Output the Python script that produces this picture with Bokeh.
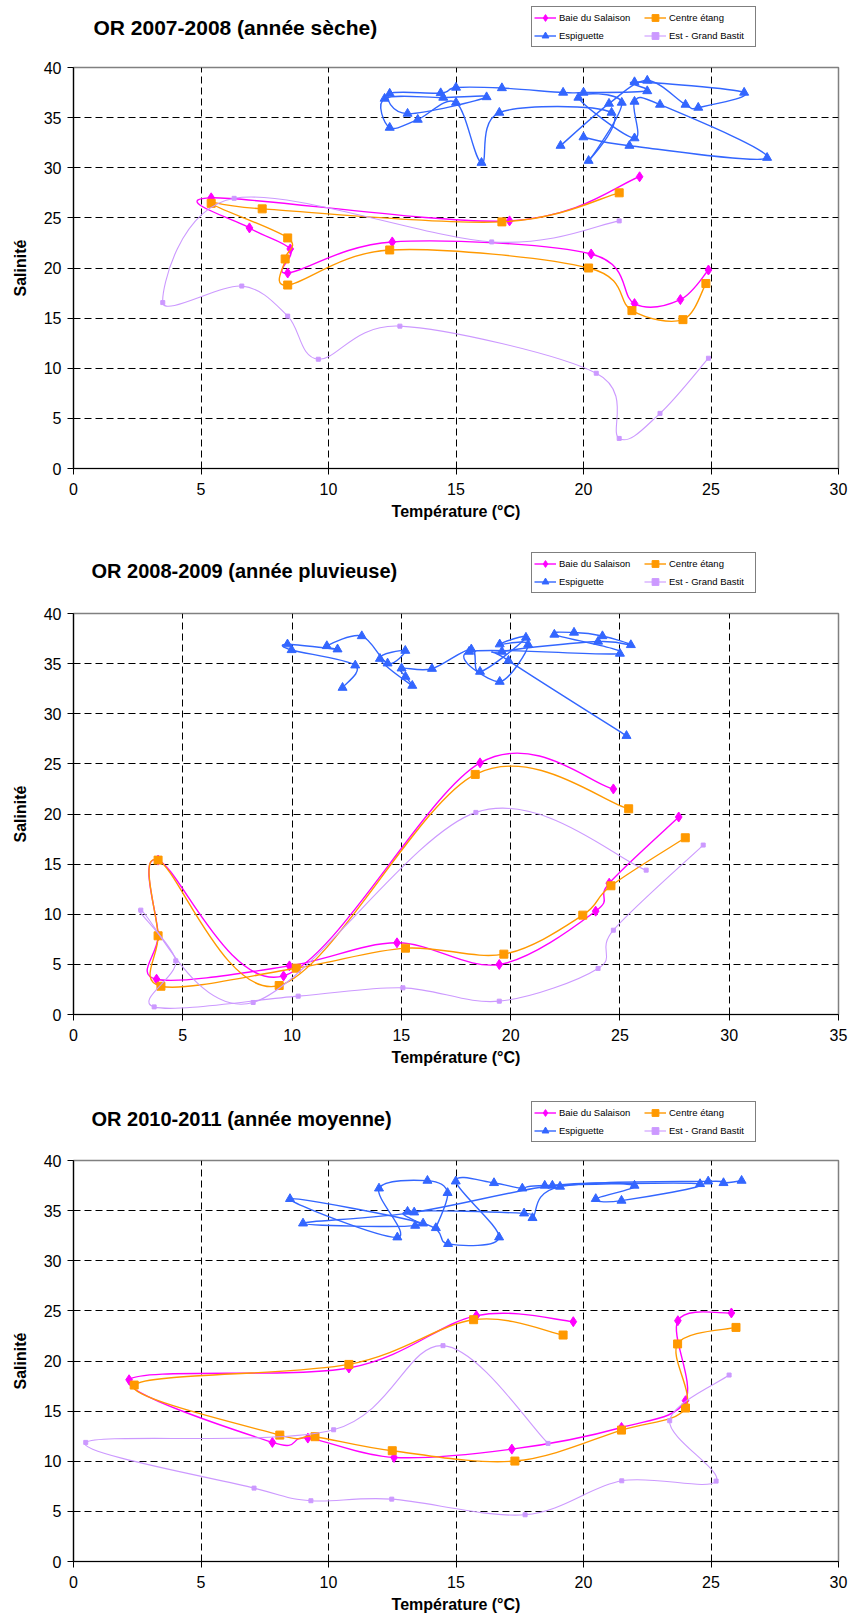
import numpy as np
from bokeh.plotting import figure
from bokeh.models import (FixedTicker, Label, Legend, LegendItem, ColumnDataSource, Range1d)
from bokeh.layouts import column
from bokeh.embed import file_html
from bokeh.resources import INLINE

SERIES = ["Baie du Salaison", "Centre étang", "Espiguette", "Est - Grand Bastit"]
TITLES = ["OR 2007-2008 (année sèche)", "OR 2008-2009 (année pluvieuse)", "OR 2010-2011 (année moyenne)"]
X_LABEL = "Température (°C)"
Y_LABEL = "Salinité"
X_MAX = [30, 35, 30]
Y_TICKS = [0, 5, 10, 15, 20, 25, 30, 35, 40]

# ---------------- OR 2007-2008 ----------------
p1_sal_t = [22.2, 17.1, 5.4, 6.9, 8.5, 8.4, 12.5, 20.3, 22.0, 23.8, 24.9]
p1_sal_s = [29.1, 24.7, 27.0, 24.0, 21.9, 19.5, 22.6, 21.4, 16.45, 16.85, 19.8]
p1_cen_t = [21.4, 16.8, 7.4, 5.4, 8.4, 8.3, 8.4, 12.4, 20.2, 21.9, 23.9, 24.8]
p1_cen_s = [27.5, 24.6, 25.9, 26.45, 23.0, 20.9, 18.3, 21.8, 20.0, 15.75, 14.85, 18.45]
p1_esp_t = [19.1, 21.0, 22.5, 24.0, 24.5, 26.3, 22.0, 22.5, 20.0, 19.2, 16.8, 15.0, 14.4,
            12.4, 13.1, 16.2, 14.5, 12.2, 12.4, 13.5, 15.0, 16.0, 16.7, 21.1, 20.2, 21.5,
            19.8, 22.0, 22.0, 23.0, 27.2, 21.8, 20.0]
p1_esp_s = [32.2, 36.4, 38.7, 36.3, 36.0, 37.5, 38.55, 37.65, 37.5, 37.5, 37.95, 38.0, 37.45,
            37.4, 35.4, 37.05, 37.0, 36.9, 34.0, 34.8, 36.5, 30.5, 35.5, 35.5, 30.7, 36.5,
            37.0, 32.95, 36.6, 36.3, 31.0, 32.2, 33.05]
p1_est_t = [21.4, 16.4, 6.3, 3.5, 6.6, 8.4, 9.6, 12.8, 20.5, 21.4, 23.0, 24.9]
p1_est_s = [24.7, 22.6, 26.95, 16.55, 18.2, 15.2, 10.9, 14.2, 9.5, 3.0, 5.5, 11.0]

# ---------------- OR 2008-2009 ----------------
p2_sal_t = [24.7, 18.6, 9.61, 3.87, 3.87, 3.80, 9.88, 14.8, 19.48, 23.89, 24.51, 27.69]
p2_sal_s = [22.5, 25.1, 3.85, 15.4, 7.85, 3.52, 4.85, 7.15, 4.99, 10.31, 13.1, 19.7]
p2_cen_t = [25.4, 18.38, 9.41, 3.87, 3.87, 4.0, 10.19, 15.19, 19.69, 23.3, 24.59, 27.99]
p2_cen_s = [20.52, 23.95, 2.89, 15.4, 7.85, 2.82, 4.62, 6.62, 6.02, 9.91, 12.84, 17.63]
p2_esp_t = [12.31, 12.89, 9.98, 9.79, 12.08, 11.59, 13.19, 14.37, 15.18, 14.02, 15.5, 15.19,
            15.01, 16.4, 18.2, 18.6, 20.7, 19.5, 20.8, 19.5, 18.1, 25.0, 22.0, 22.9, 24.2,
            25.5, 24.0, 19.6, 19.9, 25.3]
p2_esp_s = [32.6, 34.83, 36.36, 36.93, 36.43, 36.76, 37.75, 35.03, 36.29, 35.49, 32.8, 33.7,
            34.53, 34.49, 36.43, 34.2, 37.6, 36.93, 36.9, 33.2, 36.2, 36.0, 37.9, 38.1, 37.75,
            36.86, 37.2, 36.2, 35.3, 27.8]
p2_est_t = [26.2, 18.41, 8.22, 3.08, 4.68, 3.69, 10.28, 15.07, 19.48, 24.0, 24.7, 28.81]
p2_est_s = [14.4, 20.16, 1.2, 10.41, 5.35, 0.76, 1.83, 2.66, 1.33, 4.59, 8.41, 16.9]

# ---------------- OR 2010-2011 ----------------
p3_sal_t = [19.6, 15.8, 10.8, 2.18, 7.8, 9.19, 12.57, 17.19, 21.49, 24.0, 23.7, 25.8]
p3_sal_s = [23.92, 24.52, 19.3, 18.13, 11.88, 12.31, 10.38, 11.21, 13.37, 16.04, 24.02, 24.79]
p3_cen_t = [19.2, 15.69, 10.8, 2.38, 8.09, 9.47, 12.5, 17.31, 21.49, 24.0, 23.69, 25.98]
p3_cen_s = [22.59, 24.12, 19.66, 17.6, 12.61, 12.45, 11.05, 10.02, 13.11, 15.31, 21.7, 23.35]
p3_esp_t = [14.21, 14.67, 13.88, 11.98, 12.7, 8.49, 13.71, 14.69, 16.69, 14.99, 16.49, 17.6,
            18.48, 24.57, 21.49, 20.48, 22.0, 18.78, 13.36, 9.0, 13.4, 13.1, 17.67, 18.0,
            19.08, 24.89, 25.49, 26.2]
p3_esp_s = [33.27, 36.77, 37.99, 37.22, 32.34, 36.17, 33.73, 31.68, 32.34, 37.92, 37.76, 37.22,
            37.5, 37.66, 36.0, 36.17, 37.5, 37.5, 34.83, 33.73, 33.5, 34.9, 34.73, 34.27,
            37.4, 37.92, 37.76, 37.99]
p3_est_t = [18.61, 14.49, 10.2, 0.48, 7.08, 9.31, 12.48, 17.71, 21.5, 25.2, 23.38, 25.71]
p3_est_s = [11.78, 21.53, 13.14, 11.88, 7.32, 6.06, 6.22, 4.66, 8.05, 8.02, 14.04, 18.6]

PANELS = [
    [(p1_sal_t, p1_sal_s), (p1_cen_t, p1_cen_s), (p1_esp_t, p1_esp_s), (p1_est_t, p1_est_s)],
    [(p2_sal_t, p2_sal_s), (p2_cen_t, p2_cen_s), (p2_esp_t, p2_esp_s), (p2_est_t, p2_est_s)],
    [(p3_sal_t, p3_sal_s), (p3_cen_t, p3_cen_s), (p3_esp_t, p3_esp_s), (p3_est_t, p3_est_s)],
]

# styles
COLORS = ["#FF00FF", "#FF9900", "#3366FF", "#CC99FF"]
MARKERS = ["diamond", "square", "triangle", "square"]
MSIZES = [10, 8, 9, 4]
LWIDTHS = [1.4, 1.4, 1.4, 1.1]
FONT = "Liberation Sans"
W = 849
FL, FR = 73, 11   # frame left / right borders (px)

# layout per panel (pixels): header height, chart height, chart bottom border,
# title left (page px) / centre-from-header-bottom / size, legend left / bottom
LAYOUT = [
    dict(hh=57, h=473, bottom=62, tx=93, ty=30, ts="21px", lx=531, ly=10),
    dict(hh=73, h=472, bottom=61, tx=91, ty=33, ts="20px", lx=531, ly=10),
    dict(hh=75, h=465, bottom=54, tx=91, ty=32, ts="20px", lx=531, ly=8),
]


def smooth_segments(xs, ys):
    P = np.column_stack([xs, ys]).astype(float)
    n = len(P)
    Pm = np.vstack([P[0], P, P[-1]])
    c0 = P[:-1] + (Pm[2:n + 1] - Pm[0:n - 1]) / 6.0
    c1 = P[1:] - (Pm[3:n + 2] - Pm[1:n]) / 6.0
    return dict(x0=P[:-1, 0], y0=P[:-1, 1], x1=P[1:, 0], y1=P[1:, 1],
                cx0=c0[:, 0], cy0=c0[:, 1], cx1=c1[:, 0], cy1=c1[:, 1])


figs = []
for k, panel in enumerate(PANELS):
    L = LAYOUT[k]
    xmax = X_MAX[k]

    # ---- header: title + legend (coordinates = page pixels) ----
    hdr = figure(width=W, height=L["hh"], x_range=Range1d(FL, W - FR),
                 y_range=Range1d(0, L["hh"]),
                 output_backend="svg", toolbar_location=None,
                 min_border_left=FL, min_border_right=FR, min_border_top=0, min_border_bottom=0)
    hdr.axis.visible = False
    hdr.grid.visible = False
    hdr.outline_line_color = None
    hdr.background_fill_color = "white"
    hdr.border_fill_color = "white"
    items = []
    for i in range(4):
        # legend proxies, placed outside the visible range
        dl = hdr.line(x=[-5000, -4999], y=[-5000, -5000], line_color=COLORS[i],
                      line_width=LWIDTHS[i])
        ds = hdr.scatter(x=[-5000], y=[-5000], marker=MARKERS[i], size=MSIZES[i],
                         fill_color=COLORS[i], line_color=COLORS[i])
        items.append(LegendItem(label=SERIES[i], renderers=[dl, ds]))
    legend = Legend(items=items, location=(L["lx"] - FL, L["ly"]), orientation="horizontal",
                    ncols=2, label_text_font=FONT, label_text_font_size="9.5px",
                    label_text_color="black",
                    glyph_width=22, glyph_height=17, label_height=17, label_width=84,
                    label_standoff=3, spacing=1, padding=2, margin=0,
                    border_line_color="black", border_line_width=1,
                    background_fill_color="white", background_fill_alpha=1)
    hdr.add_layout(legend)
    hdr.add_layout(Label(x=L["tx"], y=L["ty"], text=TITLES[k], text_font=FONT,
                         text_font_size=L["ts"], text_font_style="bold",
                         text_baseline="middle", text_align="left", text_color="black"))
    figs.append(hdr)

    # ---- chart ----
    p = figure(width=W, height=L["h"], x_range=Range1d(0, xmax), y_range=Range1d(0, 40),
               output_backend="svg", toolbar_location=None,
               min_border_left=FL, min_border_right=FR,
               min_border_top=10, min_border_bottom=L["bottom"])
    p.background_fill_color = "white"
    p.border_fill_color = "white"
    p.outline_line_color = "#808080"
    p.outline_line_width = 1.5

    p.xaxis.ticker = FixedTicker(ticks=list(range(0, xmax + 1, 5)))
    p.yaxis.ticker = FixedTicker(ticks=Y_TICKS)
    p.xgrid.ticker = FixedTicker(ticks=list(range(5, xmax, 5)))
    p.ygrid.ticker = FixedTicker(ticks=Y_TICKS[1:])
    p.grid.grid_line_color = "black"
    p.grid.grid_line_dash = "7 4"
    p.grid.grid_line_width = 1

    p.axis.axis_line_color = "black"
    p.axis.axis_line_width = 1.2
    p.axis.major_tick_line_color = "black"
    p.axis.major_tick_out = 6
    p.axis.major_tick_in = 0
    p.axis.minor_tick_line_color = None
    p.axis.major_label_text_font = FONT
    p.axis.major_label_text_font_size = "16px"
    p.axis.major_label_text_color = "black"
    p.axis.axis_label_text_font = FONT
    p.axis.axis_label_text_font_size = "16px"
    p.axis.axis_label_text_font_style = "bold"
    p.axis.axis_label_text_color = "black"
    p.xaxis.axis_label = X_LABEL
    p.yaxis.axis_label = Y_LABEL
    p.xaxis.major_label_standoff = 8
    p.xaxis.axis_label_standoff = 5
    p.yaxis.major_label_standoff = 6
    p.yaxis.axis_label_standoff = 12

    for i, (tx, sy) in enumerate(panel):
        seg = ColumnDataSource(smooth_segments(tx, sy))
        p.bezier(x0="x0", y0="y0", x1="x1", y1="y1", cx0="cx0", cy0="cy0",
                 cx1="cx1", cy1="cy1", source=seg, line_color=COLORS[i],
                 line_width=LWIDTHS[i])
        pts = ColumnDataSource(dict(t=tx, s=sy))
        p.scatter(x="t", y="s", source=pts, marker=MARKERS[i], size=MSIZES[i],
                  fill_color=COLORS[i], line_color=COLORS[i])
    figs.append(p)

layout = column(*figs, spacing=0)
open("out.html", "w").write(file_html(layout, INLINE))
